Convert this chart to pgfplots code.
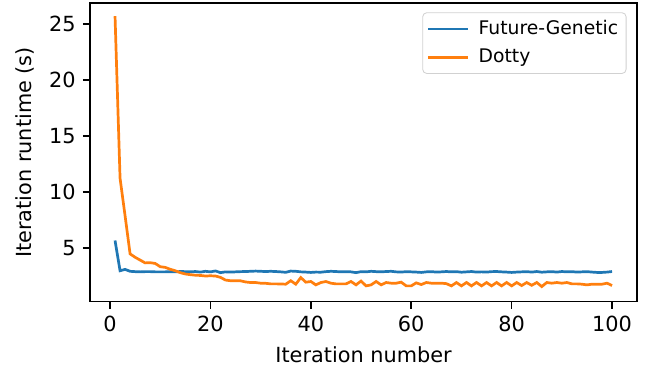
\documentclass[border=0pt]{standalone}
\usepackage{fontspec}
\setmainfont{DejaVu Sans}
\usepackage{pgfplots}
\pgfplotsset{compat=1.18}
\definecolor{cA}{HTML}{1F77B4}
\definecolor{cB}{HTML}{FF7F0E}
\pgfplotstableread{
x y
1 5.7
2 3.0
3 3.12
4 2.95
5 2.92
6 2.9
7 2.92
8 2.92
9 2.9
10 2.9
11 2.9
12 2.92
13 2.9
14 2.93
15 2.92
16 2.9
17 2.93
18 2.88
19 2.95
20 2.9
21 2.98
22 2.83
23 2.9
24 2.88
25 2.9
26 2.92
27 2.93
28 2.95
29 2.97
30 2.95
31 2.93
32 2.95
33 2.93
34 2.9
35 2.86
36 2.97
37 2.95
38 2.9
39 2.88
40 2.85
41 2.88
42 2.87
43 2.92
44 2.95
45 2.93
46 2.9
47 2.92
48 2.9
49 2.83
50 2.92
51 2.9
52 2.95
53 2.92
54 2.9
55 2.93
56 2.95
57 2.9
58 2.88
59 2.92
60 2.9
61 2.88
62 2.85
63 2.9
64 2.92
65 2.88
66 2.9
67 2.93
68 2.9
69 2.92
70 2.87
71 2.9
72 2.93
73 2.88
74 2.9
75 2.88
76 2.92
77 2.93
78 2.9
79 2.88
80 2.85
81 2.88
82 2.9
83 2.92
84 2.88
85 2.93
86 2.87
87 2.9
88 2.92
89 2.88
90 2.93
91 2.9
92 2.92
93 2.88
94 2.9
95 2.92
96 2.88
97 2.85
98 2.85
99 2.88
100 2.93
}\futuregen
\pgfplotstableread{
x y
1 25.7
2 11.25
3 7.9
4 4.5
5 4.2
6 3.95
7 3.7
8 3.72
9 3.65
10 3.36
11 3.3
12 3.13
13 3.0
14 2.83
15 2.71
16 2.65
17 2.6
18 2.58
19 2.53
20 2.55
21 2.53
22 2.41
23 2.17
24 2.11
25 2.11
26 2.1
27 2.0
28 1.95
29 1.95
30 1.89
31 1.88
32 1.83
33 1.83
34 1.82
35 1.8
36 2.11
37 1.8
38 2.39
39 1.98
40 2.04
41 1.74
42 1.95
43 2.04
44 1.89
45 1.83
46 1.83
47 1.83
48 2.04
49 1.74
50 2.08
51 1.65
52 1.74
53 2.04
54 1.74
55 1.95
56 1.89
57 1.89
58 1.98
59 1.65
60 1.65
61 1.92
62 1.77
63 1.95
64 1.89
65 1.89
66 1.89
67 1.85
68 1.65
69 1.95
70 1.65
71 1.95
72 1.65
73 1.95
74 1.65
75 1.95
76 1.65
77 1.95
78 1.65
79 1.95
80 1.65
81 1.95
82 1.68
83 1.95
84 1.7
85 1.95
86 1.59
87 1.95
88 1.89
89 1.95
90 1.89
91 1.95
92 1.83
93 1.83
94 1.8
95 1.74
96 1.8
97 1.8
98 1.8
99 1.89
100 1.68
}\dotty
\begin{document}
\begin{tikzpicture}
\begin{axis}[name=ax, scale only axis, width=262.5pt, height=143.2pt,
  xmin=-3.95, xmax=104.95, ymin=0.25, ymax=26.85,
  xtick={0,20,...,100}, ytick={5,10,...,25},
  tick align=outside, tick pos=left, major tick length=3.5pt,
  axis line style={line width=0.8pt},
  every tick/.style={black,line width=0.8pt},
  /pgf/number format/assume math mode=true,
  tick label style={font=\fontsize{10}{12}\selectfont},
  label style={font=\fontsize{10}{12}\selectfont},
  xlabel={Iteration number}, ylabel={Iteration runtime (s)},
  legend style={at={(0.981,0.97)}, anchor=north east, draw=black!18, rounded corners=2pt,
    font=\fontsize{9}{10.8}\selectfont, inner xsep=2pt, inner ysep=1.8pt,
    nodes={inner sep=1.8pt}, column sep=2.8pt, row sep=2pt},
  legend cell align=left,
  legend image code/.code={\draw[#1] (0pt,0pt) -- (19pt,0pt);},
]
\addplot[cA, line width=1.3pt] table[x=x,y=y] {\futuregen};
\addlegendentry{Future-Genetic}
\addplot[cB, line width=1.3pt] table[x=x,y=y] {\dotty};
\addlegendentry{Dotty}
\end{axis}
\path ([xshift=-43.3pt,yshift=-36.2pt]ax.south west) rectangle ([xshift=5.8pt,yshift=1.6pt]ax.north east);
\end{tikzpicture}
\end{document}
